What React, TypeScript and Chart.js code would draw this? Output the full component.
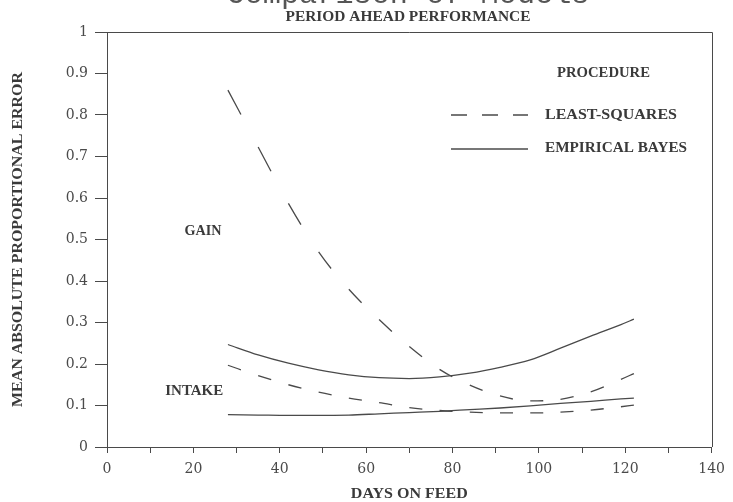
import React, { useEffect, useRef } from "react";
import { Chart, registerables } from "chart.js";

Chart.register(...registerables);

// ---- data ----
const days = [28, 35, 42, 49, 56, 63, 70, 77, 84, 91, 98, 105, 112, 119, 122];
const gainLeastSquares = [0.86, 0.723, 0.587, 0.47, 0.38, 0.307, 0.242, 0.187, 0.149, 0.123, 0.111, 0.115, 0.133, 0.163, 0.177];
const gainEmpiricalBayes = [0.247, 0.222, 0.202, 0.186, 0.174, 0.167, 0.165, 0.169, 0.178, 0.192, 0.21, 0.238, 0.267, 0.295, 0.308];
const intakeLeastSquares = [0.197, 0.172, 0.15, 0.132, 0.118, 0.107, 0.095, 0.088, 0.084, 0.082, 0.082, 0.084, 0.089, 0.097, 0.101];
const intakeEmpiricalBayes = [0.078, 0.077, 0.076, 0.076, 0.077, 0.08, 0.083, 0.086, 0.09, 0.094, 0.099, 0.105, 0.11, 0.116, 0.118];

const xTicksLabelled = [0, 20, 40, 60, 80, 100, 120, 140];
const topCutText = "Comparison of Models";
const titleText = "PERIOD AHEAD PERFORMANCE";
const xTitle = "DAYS ON FEED";
const yTitle = "MEAN ABSOLUTE PROPORTIONAL ERROR";
const legendTitle = "PROCEDURE";
const legendLabels = ["LEAST-SQUARES", "EMPIRICAL BAYES"];
const curveLabels = [
  { text: "GAIN", x: 22.2, y: 0.52, w: 37 },
  { text: "INTAKE", x: 20.2, y: 0.134, w: 58 },
];

const INK = "#4a4a4a";
const TEXT = "#3a3a3a";
const SERIF = "'Liberation Serif', 'DejaVu Serif', serif";

const pts = (ys: number[]) => days.map((d, i) => ({ x: d, y: ys[i] }));

function fitText(
  ctx: CanvasRenderingContext2D,
  text: string,
  cx: number,
  cy: number,
  width: number,
  font: string,
  rot = 0,
  baseline: CanvasTextBaseline = "middle",
  color = TEXT
) {
  ctx.save();
  ctx.font = font;
  ctx.fillStyle = color;
  ctx.translate(cx, cy);
  if (rot) ctx.rotate(rot);
  const w = ctx.measureText(text).width;
  ctx.scale(width / w, 1);
  ctx.textAlign = "center";
  ctx.textBaseline = baseline;
  ctx.fillText(text, 0, 0);
  ctx.restore();
}

const decor = {
  id: "decor",
  afterDraw(chart: any) {
    const { ctx, chartArea: a, scales } = chart;
    ctx.save();
    // frame top and right
    ctx.strokeStyle = INK;
    ctx.lineWidth = 1;
    ctx.beginPath();
    ctx.moveTo(a.left, Math.round(a.top) + 0.5);
    ctx.lineTo(Math.round(a.right) + 0.5, Math.round(a.top) + 0.5);
    ctx.lineTo(Math.round(a.right) + 0.5, a.bottom);
    ctx.stroke();

    const font = `bold 14px ${SERIF}`;
    // partially cut heading at the very top
    fitText(ctx, topCutText, 408, 3, 363, `30px 'Liberation Mono', monospace`, 0, "alphabetic", "#555");
    fitText(ctx, titleText, 408, 17, 245, font);
    fitText(ctx, xTitle, (a.left + a.right) / 2, 494, 117, font);
    fitText(ctx, yTitle, 18, (a.top + a.bottom) / 2, 335, font, -Math.PI / 2);

    // legend
    fitText(ctx, legendTitle, 603.5, 73, 93, font);
    fitText(ctx, legendLabels[0], 611, 115, 132, font);
    fitText(ctx, legendLabels[1], 616, 148, 142, font);
    ctx.strokeStyle = INK;
    ctx.lineWidth = 1.3;
    ctx.setLineDash([16, 15]);
    ctx.beginPath();
    ctx.moveTo(451, 115);
    ctx.lineTo(528, 115);
    ctx.stroke();
    ctx.setLineDash([]);
    ctx.beginPath();
    ctx.moveTo(451, 149);
    ctx.lineTo(528, 149);
    ctx.stroke();

    // curve labels placed in data coordinates
    for (const c of curveLabels) {
      fitText(ctx, c.text, scales.x.getPixelForValue(c.x), scales.y.getPixelForValue(c.y), c.w, font);
    }
    ctx.restore();
  },
};

// plotter-style dashes: constant length measured along x
const plotterDash = (dashX: number, gapX: number) => (c: any) => {
  const dx = Math.abs(c.p1.x - c.p0.x) || 1;
  const f = Math.hypot(c.p1.x - c.p0.x, c.p1.y - c.p0.y) / dx;
  return [dashX * f, gapX * f];
};

export default function App() {
  const ref = useRef<HTMLCanvasElement>(null);
  useEffect(() => {
    if (!ref.current) return;
    const line = (data: number[], dashed: boolean) => ({
      data: pts(data),
      borderColor: INK,
      borderWidth: 1.3,
      pointRadius: 0,
      fill: false,
      cubicInterpolationMode: "monotone" as const,
      segment: dashed ? { borderDash: plotterDash(13, 17.5) } : undefined,
    });
    const chart = new Chart(ref.current, {
      type: "line",
      data: {
        datasets: [
          line(gainLeastSquares, true),
          line(gainEmpiricalBayes, false),
          line(intakeLeastSquares, true),
          line(intakeEmpiricalBayes, false),
        ],
      },
      options: {
        responsive: false,
        animation: false,
        layout: { padding: { top: 32, right: 17, left: 0, bottom: 0 } },
        plugins: { legend: { display: false }, tooltip: { enabled: false }, title: { display: false } },
        scales: {
          x: {
            type: "linear",
            min: 0,
            max: 140,
            afterFit: (s: any) => {
              s.height = 55;
            },
            ticks: {
              stepSize: 10,
              autoSkip: false,
              maxRotation: 0,
              padding: 8,
              color: "#4a4a4a",
              font: { family: "'DejaVu Serif', serif", size: 14 },
              callback: (v: any) => (xTicksLabelled.includes(Number(v)) ? String(v) : ""),
            },
            grid: { display: true, drawOnChartArea: false, drawTicks: true, tickLength: 6, color: INK },
            border: { display: true, color: INK, width: 1 },
          },
          y: {
            type: "linear",
            min: 0,
            max: 1,
            afterFit: (s: any) => {
              s.width = 107;
            },
            ticks: {
              stepSize: 0.1,
              autoSkip: false,
              padding: 7,
              color: "#4a4a4a",
              font: { family: "'DejaVu Serif', serif", size: 14 },
              callback: (v: any) => {
                const n = Number(v);
                if (Math.abs(n) < 1e-9) return "0";
                if (Math.abs(n - 1) < 1e-9) return "1";
                return n.toFixed(1);
              },
            },
            grid: { display: true, drawOnChartArea: false, drawTicks: true, tickLength: 12, color: INK },
            border: { display: true, color: INK, width: 1 },
          },
        },
      },
      plugins: [decor],
    });
    return () => chart.destroy();
  }, []);
  return (
    <canvas
      ref={ref}
      width={733}
      height={502}
      style={{ position: "absolute", left: 0, top: 0, display: "block", background: "#fff" }}
    />
  );
}
